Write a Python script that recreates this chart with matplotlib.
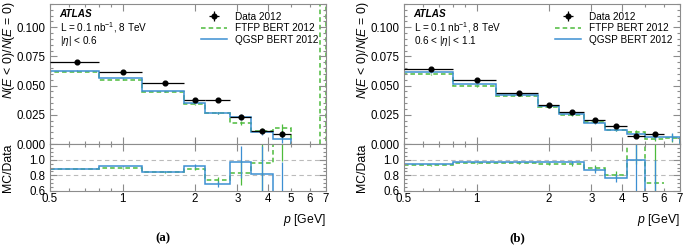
import numpy as np
import matplotlib
matplotlib.use("Agg")
import matplotlib.pyplot as plt
from matplotlib.ticker import FixedLocator, FuncFormatter, MultipleLocator, NullFormatter
from matplotlib.lines import Line2D

plt.rcParams['font.family'] = ['Liberation Sans', 'DejaVu Sans']
plt.rcParams['mathtext.fontset'] = 'custom'
plt.rcParams['mathtext.it'] = 'Liberation Sans:italic'
plt.rcParams['mathtext.rm'] = 'Liberation Sans'

# ---------------- data: panel (a) |eta| < 0.6 ----------------
edges_a = [0.5, 0.8, 1.2, 1.8, 2.2, 2.8, 3.4, 4.2, 5.0]
centers_a = [0.65, 1.0, 1.5, 2.0, 2.5, 3.1, 3.8, 4.6]
data_a = [0.0702, 0.0614, 0.0523, 0.0381, 0.0381, 0.0233, 0.0111, 0.0085]
data_a_err = [0.0008, 0.0008, 0.0008, 0.0010, 0.0010, 0.0018, 0.0020, 0.0025]
qgsp_a = [0.0628, 0.0565, 0.0452, 0.0355, 0.0262, 0.0233, 0.0100, 0.0040]
qgsp_a_err = [0.0004, 0.0004, 0.0004, 0.0006, 0.0008, 0.0025, 0.0020, 0.0035]
ftfp_a = [0.0620, 0.0552, 0.0446, 0.0341, 0.0268, 0.0180, 0.0114, 0.0134]
ftfp_a_err = [0.0004, 0.0004, 0.0004, 0.0006, 0.0008, 0.0020, 0.0020, 0.0035]
ftfp_a_tail_edges = [6.6, 7.0]
ftfp_a_tail = [0.5]
ratio_qgsp_a = [0.885, 0.915, 0.847, 0.92, 0.69, 0.97, 0.82, 0.47]
ratio_qgsp_a_err = [0.005, 0.005, 0.005, 0.02, 0.04, 0.20, 0.35, 0.50]
ratio_ftfp_a = [0.88, 0.89, 0.84, 0.885, 0.736, 0.83, 0.96, 1.58]
ratio_ftfp_a_err = [0.005, 0.005, 0.005, 0.02, 0.04, 0.15, 0.45, 0.60]

# ---------------- data: panel (b) 0.6 < |eta| < 1.1 ----------------
edges_b = [0.5, 0.8, 1.2, 1.8, 2.2, 2.8, 3.4, 4.2, 5.0, 6.0, 7.0]
centers_b = [0.65, 1.0, 1.5, 2.0, 2.5, 3.1, 3.8, 4.6, 5.5]
mc_centers_b = [0.65, 1.0, 1.5, 2.0, 2.5, 3.1, 3.8, 4.6, 5.5, 6.5]
data_b = [0.0645, 0.0546, 0.0441, 0.0338, 0.0270, 0.0205, 0.0156, 0.0071, 0.0085]
data_b_err = [0.0007, 0.0007, 0.0007, 0.0008, 0.0008, 0.0012, 0.0015, 0.0015, 0.0020]
qgsp_b = [0.0616, 0.0512, 0.0424, 0.0324, 0.0256, 0.0176, 0.0118, 0.0083, 0.0060, 0.0058]
qgsp_b_err = [0.0004, 0.0004, 0.0004, 0.0005, 0.0006, 0.0008, 0.0010, 0.0015, 0.0020, 0.0035]
ftfp_b = [0.0597, 0.0494, 0.0412, 0.0315, 0.0247, 0.0185, 0.0122, 0.0105, 0.0045, 0.0048]
ftfp_b_err = [0.0004, 0.0004, 0.0004, 0.0005, 0.0006, 0.0008, 0.0010, 0.0015, 0.0020, 0.0035]
ratio_qgsp_b = [0.945, 0.975, 0.975, 0.966, 0.966, 0.864, 0.767, 1.0, 0.5]
ratio_qgsp_b_err = [0.005, 0.005, 0.005, 0.01, 0.02, 0.04, 0.05, 0.45, 0.50]
ratio_ftfp_b = [0.93, 0.953, 0.955, 0.945, 0.94, 0.89, 0.81, 1.45, 0.70]
ratio_ftfp_b_err = [0.005, 0.005, 0.005, 0.01, 0.02, 0.04, 0.05, 0.50, 0.55]

xtick_labels = ['0.5', '1', '2', '3', '4', '5', '6', '7']
xtick_vals = [0.5, 1, 2, 3, 4, 5, 6, 7]
ytick_vals = [0.0, 0.025, 0.05, 0.075, 0.1]
rtick_vals = [0.6, 0.8, 1.0]

BLUE = '#3c8fd2'
GREEN = '#4dbb3c'
SPINE = '#8c8c8c'
FS = 7.2
TFS = 8.3

fig = plt.figure(figsize=(6.85, 2.46), dpi=100)


def style_axes(ax, top_panel):
    ax.set_xscale('log')
    ax.set_xlim(0.5, 7)
    for s in ax.spines.values():
        s.set_color(SPINE)
        s.set_linewidth(0.8)
    ax.xaxis.set_major_locator(FixedLocator([1, 2, 3, 4]))
    ax.xaxis.set_minor_locator(FixedLocator([0.5, 0.6, 0.7, 0.8, 0.9, 5, 6, 7]))
    ax.tick_params(which='both', direction='in', top=True, right=True,
                   color=SPINE, labelsize=TFS, width=0.8)
    ax.tick_params(which='major', length=5)
    ax.tick_params(which='minor', length=2.5)
    if top_panel:
        ax.xaxis.set_major_formatter(NullFormatter())
        ax.xaxis.set_minor_formatter(NullFormatter())
    else:
        lab = dict(zip(xtick_vals, xtick_labels))

        def f(v, p):
            for k, t in lab.items():
                if abs(k - v) < 1e-6:
                    return t
            return ''
        ax.xaxis.set_major_formatter(FuncFormatter(f))
        ax.xaxis.set_minor_formatter(FuncFormatter(f))
        ax.tick_params(axis='x', which='both', pad=1.5)


def panel(x0, edges, centers, data, data_err, mc_centers, qgsp, qgsp_err, ftfp, ftfp_err,
          rq, rq_err, rf, rf_err, region_text, letter, tail=None):
    w = 0.403
    ax = fig.add_axes([x0, 0.4146, w, 0.5694])
    rx = fig.add_axes([x0, 0.2236, w, 0.191])
    style_axes(ax, True)
    style_axes(rx, False)

    # upper panel
    e_data = np.array(edges[:len(data) + 1])
    c = np.array(centers)
    xerr = [c - e_data[:-1], e_data[1:] - c]
    mc_edges = np.array(edges[:len(qgsp) + 1])
    ax.stairs(ftfp, mc_edges, baseline=0, color=GREEN, lw=1.1, ls=(0, (3, 2)))
    ax.stairs(qgsp, mc_edges, baseline=0, color=BLUE, lw=1.1)
    if tail is not None:
        ax.stairs(tail[1], tail[0], baseline=0, color=GREEN, lw=1.1, ls=(0, (3, 2)))
    ax.errorbar(mc_centers, ftfp, yerr=ftfp_err, fmt='none', ecolor=GREEN, elinewidth=0.9)
    ax.errorbar(mc_centers, qgsp, yerr=qgsp_err, fmt='none', ecolor=BLUE, elinewidth=0.9)
    ax.errorbar(c, data, xerr=xerr, yerr=data_err, fmt='o', color='black',
                ms=3.4, elinewidth=0.9, capsize=0, zorder=5)
    ax.set_ylim(0, 0.12)
    ax.yaxis.set_major_locator(FixedLocator(ytick_vals))
    ax.yaxis.set_minor_locator(MultipleLocator(0.005))
    ax.yaxis.set_major_formatter(FuncFormatter(lambda v, p: f'{abs(v):.3f}'))
    ax.set_ylabel(r'$N(E\,<\,0)/N(E\,=\,0)$', fontsize=TFS + 0.5, loc='top')
    ax.yaxis.set_label_coords(-0.12, 1.02)

    ax.text(0.035, 0.928, 'ATLAS', transform=ax.transAxes, fontsize=FS,
            fontweight='bold', style='italic', va='center')
    ax.text(0.035, 0.833, r'L = 0.1 nb$^{-1}$, 8 TeV', transform=ax.transAxes,
            fontsize=FS, va='center')
    ax.text(0.035, 0.732, region_text, transform=ax.transAxes, fontsize=FS, va='center')

    h_data = ax.errorbar([], [], yerr=[], xerr=[], fmt='o', color='black', ms=3.4,
                         elinewidth=0.9)
    h_f = Line2D([], [], color=GREEN, lw=1.1, ls=(0, (3, 2)))
    h_q = Line2D([], [], color=BLUE, lw=1.1)
    ax.legend([h_data, h_f, h_q], ['Data 2012', 'FTFP BERT 2012', 'QGSP BERT 2012'],
              loc='upper right', bbox_to_anchor=(1.0, 1.0), frameon=False,
              fontsize=FS, handlelength=2.6, handletextpad=0.8, labelspacing=0.15,
              borderpad=0.3)

    # ratio panel
    rc = np.array(centers)
    redges = np.array(edges[:len(rq) + 1])
    rx.axhline(1.0, color='#bbbbbb', lw=0.8, ls=(0, (4, 3)), zorder=0)
    rx.axhline(0.8, color='#bbbbbb', lw=0.8, ls=(0, (4, 3)), zorder=0)
    rx.stairs(rf, redges, baseline=None, color=GREEN, lw=1.1, ls=(0, (3, 2)))
    rx.stairs(rq, redges, baseline=None, color=BLUE, lw=1.1)
    rx.errorbar(rc, rf, yerr=rf_err, fmt='none', ecolor=GREEN, elinewidth=0.9, ls='--')
    rx.errorbar(rc, rq, yerr=rq_err, fmt='none', ecolor=BLUE, elinewidth=0.9)
    rx.set_ylim(0.6, 1.2)
    rx.yaxis.set_major_locator(FixedLocator(rtick_vals))
    rx.yaxis.set_minor_locator(MultipleLocator(0.05))
    rx.yaxis.set_major_formatter(FuncFormatter(lambda v, p: f'{v:.1f}'))
    rx.set_ylabel('MC/Data', fontsize=TFS + 0.5)
    rx.yaxis.set_label_coords(-0.13, 0.5)

    rx.set_xlabel(r'$p$ [GeV]', fontsize=TFS + 0.5, loc='right', labelpad=5)
    fig.text(x0 + w * 0.41, 0.033, letter, fontsize=TFS + 1, fontweight='bold',
             family='Liberation Serif', ha='center', va='center')


panel(0.073, edges_a, centers_a, data_a, data_a_err, centers_a, qgsp_a, qgsp_a_err,
      ftfp_a, ftfp_a_err, ratio_qgsp_a, ratio_qgsp_a_err, ratio_ftfp_a, ratio_ftfp_a_err,
      r'$|\eta|$ < 0.6', '(a)', tail=(ftfp_a_tail_edges, ftfp_a_tail))
panel(0.5898, edges_b, centers_b, data_b, data_b_err, mc_centers_b, qgsp_b, qgsp_b_err,
      ftfp_b, ftfp_b_err, ratio_qgsp_b, ratio_qgsp_b_err, ratio_ftfp_b, ratio_ftfp_b_err,
      r'0.6 < $|\eta|$ < 1.1', '(b)')

fig.savefig('out.png', dpi=100)
